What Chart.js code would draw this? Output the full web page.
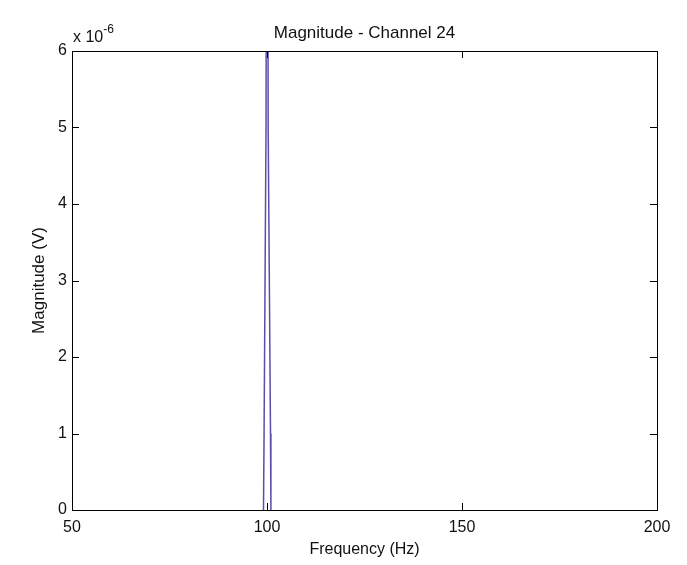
<!DOCTYPE html>
<html>
<head>
<meta charset="utf-8">
<script src="https://cdn.jsdelivr.net/npm/chart.js@4/dist/chart.umd.min.js"></script>
<style>
  html, body { margin: 0; padding: 0; background: #ffffff; }
  #wrap { width: 687px; height: 565px; }
</style>
</head>
<body>
<div id="wrap"><canvas id="chart"></canvas></div>
<script>
// Spectrum samples around the 100 Hz peak (Hz, V)
const freqs = [99.1, 99.25, 99.5, 99.75, 100.0, 100.3, 100.6, 100.9, 101.0];
const magnitudes = [0, 1e-6, 3e-6, 5e-6, 1.4e-5, 5e-6, 3e-6, 1e-6, 0];

const xTicks = [50, 100, 150, 200];
const yTicks = [0, 1e-6, 2e-6, 3e-6, 4e-6, 5e-6, 6e-6];

const chartTitle = "Magnitude - Channel 24";
const fontFamily = "'Liberation Sans', Arial, sans-serif";

// box round the plot, inward tick marks, title and exponent label
const matlabAxes = {
    id: "matlabAxes",
    afterDraw(chart) {
        const c = chart.ctx;
        const a = chart.chartArea;
        const xs = chart.scales.x;
        const ys = chart.scales.y;
        const tl = 7;
        c.save();
        c.strokeStyle = "#000";
        c.lineWidth = 1;
        c.strokeRect(Math.round(a.left) + 0.5, Math.round(a.top) + 0.5,
            Math.round(a.right - a.left), Math.round(a.bottom - a.top));
        c.beginPath();
        xTicks.forEach(v => {
            const px = Math.round(xs.getPixelForValue(v)) + 0.5;
            c.moveTo(px, a.bottom); c.lineTo(px, a.bottom - tl);
            c.moveTo(px, a.top); c.lineTo(px, a.top + tl);
        });
        yTicks.forEach(v => {
            const py = Math.round(ys.getPixelForValue(v)) + 0.5;
            c.moveTo(a.left, py); c.lineTo(a.left + tl, py);
            c.moveTo(a.right, py); c.lineTo(a.right - tl, py);
        });
        c.stroke();

        c.fillStyle = "#111";
        c.font = "17px " + fontFamily;
        c.textAlign = "center";
        c.textBaseline = "alphabetic";
        c.fillText(chartTitle, (a.left + a.right) / 2, a.top - 13);

        c.textAlign = "left";
        c.font = "16px " + fontFamily;
        c.fillText("x 10", a.left + 1, a.top - 9);
        const w = c.measureText("x 10").width;
        c.font = "12px " + fontFamily;
        c.fillText("-6", a.left + 1 + w, a.top - 18);
        c.restore();
    }
};

new Chart(document.getElementById("chart"), {
    type: "line",
    data: {
        datasets: [{
            data: freqs.map((f, i) => ({ x: f, y: magnitudes[i] })),
            borderColor: "#5a4ea8",
            borderWidth: 1.5,
            pointRadius: 0,
            tension: 0,
            fill: false
        }]
    },
    options: {
        responsive: true,
        maintainAspectRatio: false,
        animation: false,
        layout: { padding: { left: 29, right: 30, top: 51, bottom: 4 } },
        plugins: {
            legend: { display: false },
            tooltip: { enabled: false }
        },
        scales: {
            x: {
                type: "linear",
                min: 50,
                max: 200,
                afterBuildTicks: s => { s.ticks = xTicks.map(v => ({ value: v })); },
                afterFit: s => { s.height = 51; },
                grid: { display: false, drawTicks: false },
                border: { display: false },
                ticks: { padding: 8, color: "#111", font: { family: fontFamily, size: 16 }, maxRotation: 0 },
                title: { display: true, text: "Frequency (Hz)", color: "#111", padding: { top: 0, bottom: 2 }, font: { family: fontFamily, size: 16 } }
            },
            y: {
                type: "linear",
                min: 0,
                max: 6e-6,
                afterBuildTicks: s => { s.ticks = yTicks.map(v => ({ value: v })); },
                afterFit: s => { s.width = 43; },
                grid: { display: false, drawTicks: false },
                border: { display: false },
                ticks: {
                    padding: 5,
                    color: "#111",
                    font: { family: fontFamily, size: 16 },
                    callback: v => String(Math.round(v * 1e6))
                },
                title: { display: true, text: "Magnitude (V)", color: "#111", padding: { top: 0, bottom: 0 }, font: { family: fontFamily, size: 17 } }
            }
        }
    },
    plugins: [matlabAxes]
});
</script>
</body>
</html>
